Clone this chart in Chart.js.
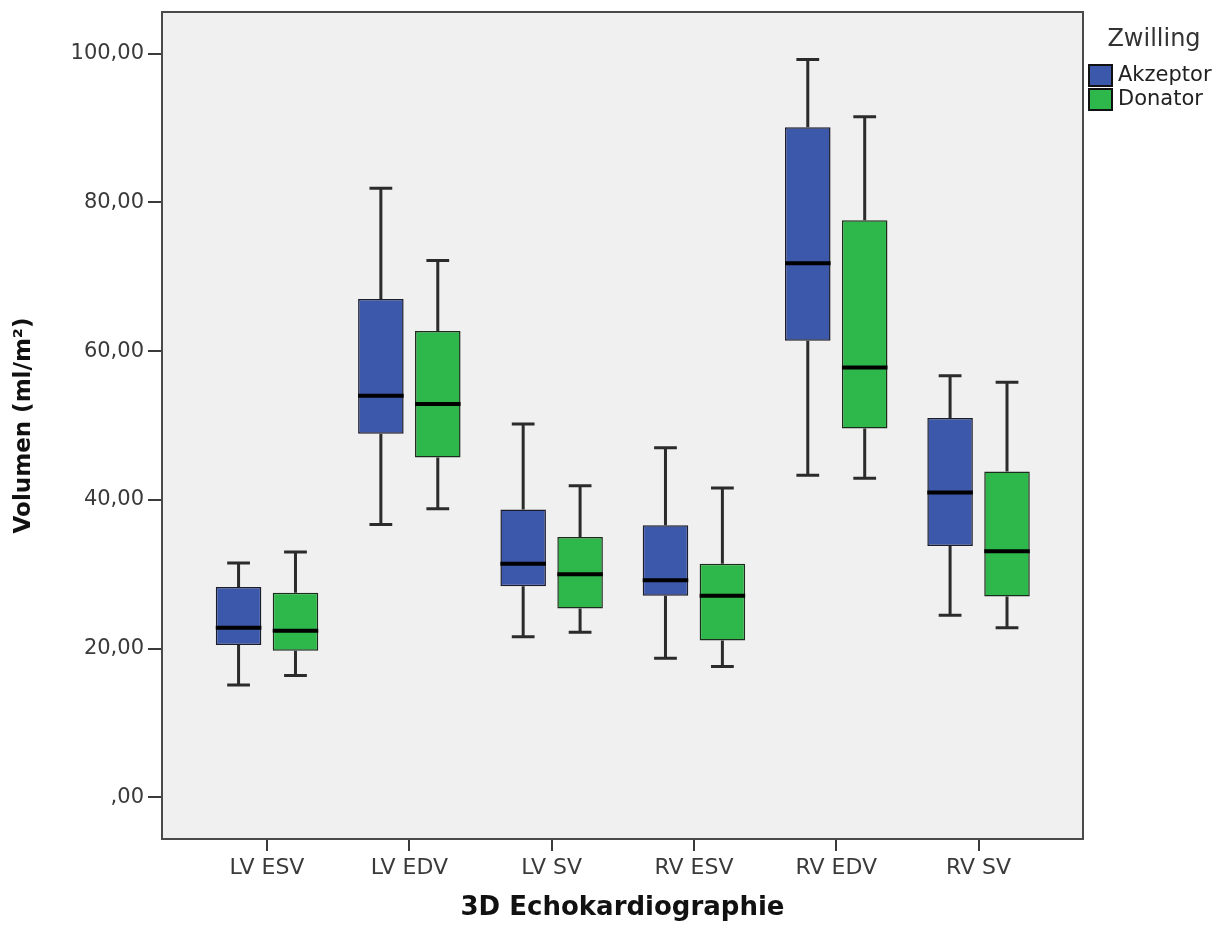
<!DOCTYPE html>
<html>
<head>
<meta charset="utf-8">
<script src="https://cdn.jsdelivr.net/npm/chart.js@4.4.1/dist/chart.umd.min.js"></script>
<style>
  body { margin: 0; background: #fff; }
  #wrap { width: 1229px; height: 927px; }
</style>
</head>
<body>
<div id="wrap"><canvas id="boxChart" width="1229" height="927"></canvas></div>
<script>
// categories and tick labels
const categories = ['LV ESV', 'LV EDV', 'LV SV', 'RV ESV', 'RV EDV', 'RV SV'];
const yTickValues = [0, 20, 40, 60, 80, 100];

// Akzeptor (blue)
const akzeptorMin = [15.1, 36.7, 21.6, 18.7, 43.3, 24.5];
const akzeptorQ1 = [20.5, 48.9, 28.4, 27.1, 61.4, 33.8];
const akzeptorMedian = [22.8, 54.0, 31.4, 29.2, 71.8, 41.0];
const akzeptorQ3 = [28.3, 67.0, 38.7, 36.6, 90.1, 51.0];
const akzeptorMax = [31.5, 81.9, 50.2, 47.0, 99.2, 56.7];

// Donator (green)
const donatorMin = [16.4, 38.8, 22.2, 17.6, 42.9, 22.8];
const donatorQ1 = [19.7, 45.7, 25.4, 21.1, 49.6, 27.0];
const donatorMedian = [22.4, 52.9, 30.0, 27.1, 57.8, 33.1];
const donatorQ3 = [27.5, 62.7, 35.0, 31.4, 77.6, 43.8];
const donatorMax = [33.0, 72.2, 41.9, 41.6, 91.5, 55.8];

const FONT = 'DejaVu Sans';

function boxData(q1, q3) {
    return categories.map((_, i) => ({ x: i + 1, y: [q1[i], q3[i]] }));
}

// whiskers + median lines, placed with the bar elements and the y scale
const boxExtras = {
    id: 'boxExtras',
    beforeDraw(chart) {
        const { ctx, chartArea: a } = chart;
        ctx.save();
        ctx.fillStyle = '#f0f0f0';
        ctx.fillRect(a.left, a.top, a.right - a.left, a.bottom - a.top);
        ctx.restore();
    },
    afterDatasetsDraw(chart) {
        const { ctx, scales: { y }, chartArea: a } = chart;
        ctx.save();
        chart.data.datasets.forEach((ds, di) => {
            const meta = chart.getDatasetMeta(di);
            meta.data.forEach((bar, i) => {
                const cx = bar.x;
                const half = bar.width / 2;
                const capHalf = half * 0.5;
                const yMin = y.getPixelForValue(ds.whiskerMin[i]);
                const yMax = y.getPixelForValue(ds.whiskerMax[i]);
                const yQ1 = y.getPixelForValue(ds.data[i].y[0]);
                const yQ3 = y.getPixelForValue(ds.data[i].y[1]);
                const yMed = y.getPixelForValue(ds.median[i]);

                ctx.strokeStyle = '#2b2b2b';
                ctx.lineWidth = 3;
                ctx.beginPath();
                ctx.moveTo(cx, yQ3); ctx.lineTo(cx, yMax);
                ctx.moveTo(cx, yQ1); ctx.lineTo(cx, yMin);
                ctx.moveTo(cx - capHalf, yMax); ctx.lineTo(cx + capHalf, yMax);
                ctx.moveTo(cx - capHalf, yMin); ctx.lineTo(cx + capHalf, yMin);
                ctx.stroke();

                ctx.strokeStyle = '#000';
                ctx.lineWidth = 4;
                ctx.beginPath();
                ctx.moveTo(cx - half, yMed); ctx.lineTo(cx + half, yMed);
                ctx.stroke();
            });
        });
        // plot frame
        ctx.strokeStyle = '#4a4a4a';
        ctx.lineWidth = 2;
        ctx.strokeRect(a.left, a.top, a.right - a.left, a.bottom - a.top);
        ctx.restore();
    },
    afterDraw(chart) {
        // SPSS style legend on the right
        const { ctx, chartArea: a } = chart;
        ctx.save();
        ctx.fillStyle = '#333';
        ctx.font = '24px "' + FONT + '"';
        ctx.textAlign = 'center';
        ctx.textBaseline = 'middle';
        ctx.fillText('Zwilling', a.right + 71, 40);
        ctx.textAlign = 'left';
        ctx.font = '21px "' + FONT + '"';
        chart.data.datasets.forEach((ds, i) => {
            const top = 65 + i * 24;
            ctx.fillStyle = ds.backgroundColor;
            ctx.fillRect(a.right + 6, top, 23, 21);
            ctx.strokeStyle = '#111';
            ctx.lineWidth = 2;
            ctx.strokeRect(a.right + 6, top, 23, 21);
            ctx.fillStyle = '#222';
            ctx.fillText(ds.label, a.right + 35, top + 11);
        });
        ctx.restore();
    }
};

const ctx = document.getElementById('boxChart').getContext('2d');
new Chart(ctx, {
    type: 'bar',
    data: {
        datasets: [{
            label: 'Akzeptor',
            data: boxData(akzeptorQ1, akzeptorQ3),
            whiskerMin: akzeptorMin,
            whiskerMax: akzeptorMax,
            median: akzeptorMedian,
            backgroundColor: '#3c58aa',
            borderColor: '#1c1c2c',
            borderWidth: 1.5,
            borderSkipped: false
        }, {
            label: 'Donator',
            data: boxData(donatorQ1, donatorQ3),
            whiskerMin: donatorMin,
            whiskerMax: donatorMax,
            median: donatorMedian,
            backgroundColor: '#2eb84b',
            borderColor: '#1c2c1c',
            borderWidth: 1.5,
            borderSkipped: false
        }]
    },
    options: {
        responsive: false,
        animation: false,
        categoryPercentage: 0.8,
        barPercentage: 0.8,
        layout: { padding: { left: 0, top: 12, right: 146, bottom: 0 } },
        plugins: {
            legend: { display: false },
            tooltip: { enabled: false }
        },
        scales: {
            x: {
                type: 'linear',
                offset: false,
                min: 0.262,
                max: 6.734,
                afterBuildTicks: scale => { scale.ticks = categories.map((_, i) => ({ value: i + 1 })); },
                afterFit: scale => { scale.height = 88; scale.paddingLeft = 0; scale.paddingRight = 0; },
                grid: { offset: false, drawOnChartArea: false, tickLength: 12, color: '#3a3a3a', lineWidth: 2 },
                border: { display: false },
                ticks: {
                    padding: 4,
                    color: '#3a3a3a',
                    font: { family: FONT, size: 22 },
                    callback: v => categories[v - 1]
                },
                title: {
                    display: true,
                    text: '3D Echokardiographie',
                    color: '#111',
                    font: { family: FONT, size: 26, weight: 'bold' },
                    padding: { top: 0, bottom: 3 }
                }
            },
            y: {
                min: -5.6,
                max: 105.6,
                afterBuildTicks: scale => { scale.ticks = yTickValues.map(v => ({ value: v })); },
                afterFit: scale => { scale.width = 162; scale.paddingTop = 0; scale.paddingBottom = 0; },
                grid: { drawOnChartArea: false, tickLength: 14, color: '#3a3a3a', lineWidth: 2 },
                border: { display: false },
                ticks: {
                    padding: 4,
                    color: '#3a3a3a',
                    font: { family: FONT, size: 21 },
                    callback: v => v === 0 ? ',00' : v.toFixed(2).replace('.', ',')
                },
                title: {
                    display: true,
                    text: 'Volumen (ml/m²)',
                    color: '#111',
                    font: { family: FONT, size: 23, weight: 'bold' },
                    padding: { top: 10, bottom: 0 }
                }
            }
        }
    },
    plugins: [boxExtras]
});
</script>
</body>
</html>
